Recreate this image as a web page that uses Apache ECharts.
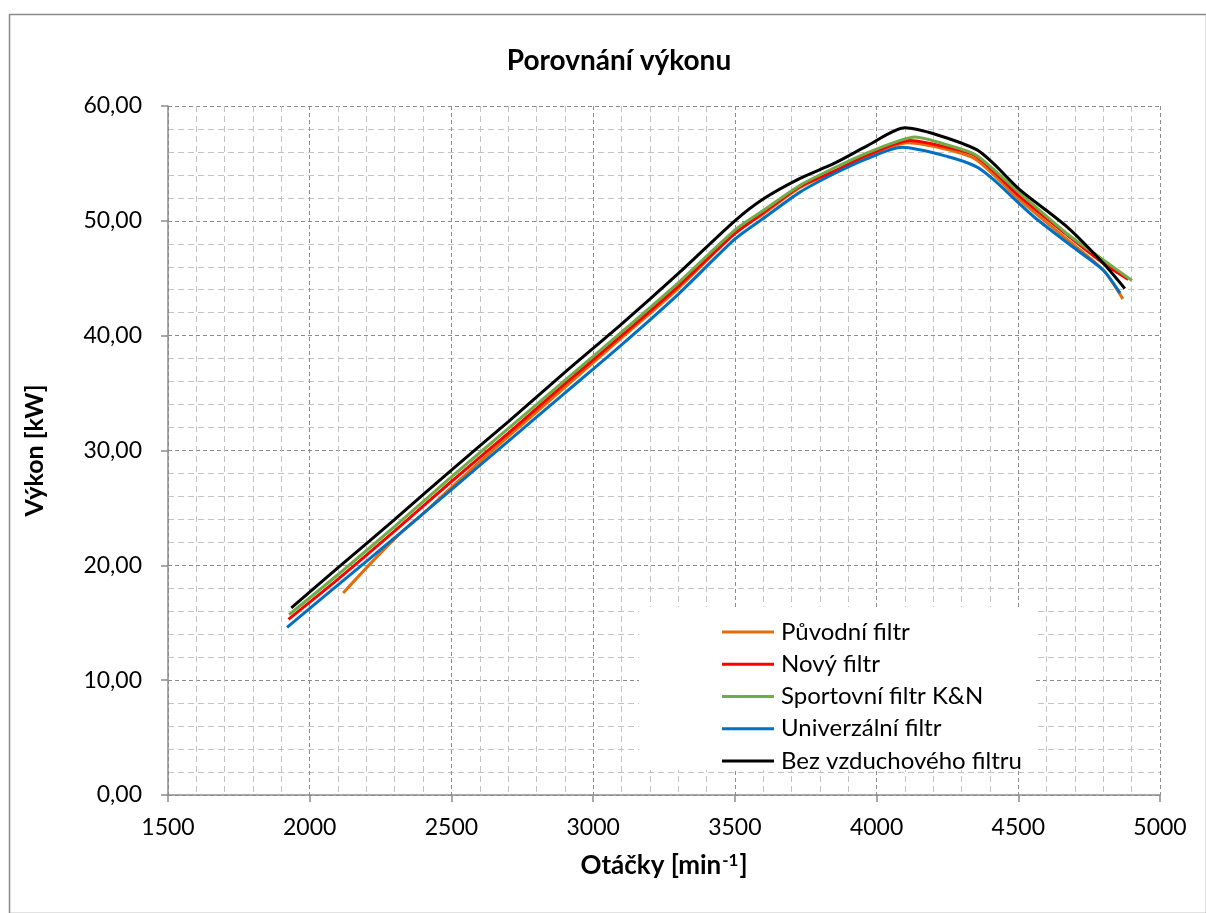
<!DOCTYPE html>
<html>
<head>
<meta charset="utf-8">
<script src="https://cdn.jsdelivr.net/npm/echarts@6/dist/echarts.min.js"></script>
<style>
  html, body { margin: 0; padding: 0; background: #fff; }
  #chart { width: 1206px; height: 913px; }
</style>
</head>
<body>
<div id="chart"></div>
<script>
// Engine power curves for different air filters: rpm [min^-1] vs power [kW]
const seriesNames = ['Původní filtr', 'Nový filtr', 'Sportovní filtr K&N', 'Univerzální filtr', 'Bez vzduchového filtru'];
const seriesColors = ['#E46C0A', '#FF0000', '#70AD47', '#0070C0', '#000000'];

const rpmPuvodni = [2118, 2220, 2320, 2400, 2500, 2700, 2900, 3100, 3300, 3500, 3600, 3730, 3850, 3965, 4110, 4250, 4353, 4506, 4671, 4800, 4869];
const kwPuvodni  = [17.6, 20.3, 22.8, 24.5, 26.8, 31.2, 35.5, 39.8, 44.1, 48.9, 50.6, 52.9, 54.3, 55.6, 56.8, 56.2, 55.3, 51.8, 48.4, 45.7, 43.2];

const rpmNovy = [1925, 2100, 2300, 2500, 2700, 2900, 3100, 3300, 3500, 3600, 3730, 3850, 3965, 4118, 4250, 4353, 4506, 4671, 4800, 4888];
const kwNovy  = [15.3, 18.8, 23.0, 27.3, 31.5, 35.8, 40.0, 44.3, 48.9, 50.7, 53.0, 54.3, 55.7, 57.0, 56.4, 55.6, 52.1, 48.8, 46.3, 44.9];

const rpmSport = [1927, 2100, 2300, 2500, 2700, 2900, 3100, 3300, 3500, 3600, 3730, 3850, 3965, 4083, 4135, 4250, 4353, 4506, 4671, 4800, 4901];
const kwSport  = [15.7, 19.2, 23.4, 27.7, 31.9, 36.1, 40.3, 44.6, 49.2, 50.9, 53.1, 54.6, 55.9, 57.0, 57.3, 56.6, 55.7, 52.4, 48.9, 46.6, 44.8];

const rpmUniverzal = [1920, 2100, 2300, 2500, 2700, 2900, 3100, 3300, 3500, 3600, 3730, 3850, 3965, 4090, 4250, 4353, 4412, 4553, 4694, 4800, 4859];
const kwUniverzal  = [14.6, 18.3, 22.4, 26.6, 30.8, 35.0, 39.2, 43.6, 48.4, 50.2, 52.5, 54.1, 55.4, 56.4, 55.6, 54.7, 53.6, 50.4, 47.7, 45.7, 43.7];

const rpmBez = [1935, 2100, 2300, 2500, 2700, 2900, 3100, 3300, 3500, 3600, 3730, 3850, 3965, 4100, 4212, 4353, 4412, 4506, 4671, 4800, 4876];
const kwBez  = [16.3, 19.8, 24.0, 28.3, 32.5, 36.8, 41.0, 45.4, 50.0, 51.9, 53.7, 55.0, 56.5, 58.1, 57.5, 56.2, 55.0, 52.7, 49.5, 46.3, 44.1];

const rpmSets = [rpmPuvodni, rpmNovy, rpmSport, rpmUniverzal, rpmBez];
const kwSets = [kwPuvodni, kwNovy, kwSport, kwUniverzal, kwBez];

const FONT = 'Lato, "Open Sans", sans-serif';

const chart = echarts.init(document.getElementById('chart'), null, { renderer: 'canvas' });

const pairs = (xs, ys) => xs.map((x, i) => [x, ys[i]]);

const majorLine = { show: true, lineStyle: { color: '#8c8c8c', width: 1, type: [4, 3] } };
const minorLine = { show: true, lineStyle: { color: '#c4c4c4', width: 1, type: [6, 4] } };

chart.setOption({
  backgroundColor: '#fff',
  animation: false,
  title: {
    text: 'Porovnání výkonu',
    left: 614,
    textAlign: 'center',
    top: 42,
    textStyle: { fontFamily: FONT, fontSize: 28, fontWeight: 'bold', color: '#000' }
  },
  graphic: [
    {
      type: 'rect',
      left: 7, top: 12,
      shape: { x: 0, y: 0, width: 1197, height: 899 },
      style: { fill: 'none', stroke: '#8a8a8a', lineWidth: 1.5 },
      z: 0
    },
    {
      // white panel behind the legend
      type: 'rect',
      left: 639, top: 607,
      shape: { x: 0, y: 0, width: 396, height: 163 },
      style: { fill: '#fff' },
      z: 1
    }
  ],
  legend: {
    orient: 'vertical',
    left: 717,
    top: 615,
    itemWidth: 52,
    itemHeight: 14,
    itemGap: 8.25,
    icon: 'path://M0,6 L52,6 L52,9 L0,9 Z',
    textStyle: { fontFamily: FONT, fontSize: 24, lineHeight: 24, color: '#000', padding: [0, 0, 0, 2] },
    data: seriesNames
  },
  grid: { left: 168, right: 46, top: 106, bottom: 118, containLabel: false },
  xAxis: {
    type: 'value',
    min: 1500, max: 5000, interval: 500,
    name: '{b|Otáčky [min}{s|-1}{b|]}',
    nameLocation: 'middle',
    nameGap: 57,
    nameTextStyle: {
      rich: {
        b: { fontFamily: FONT, fontSize: 26, fontWeight: 'bold', color: '#000' },
        s: { fontFamily: FONT, fontSize: 17, fontWeight: 'bold', color: '#000', padding: [0, 1, 11, 1] }
      }
    },
    axisLine: { show: true, onZero: false, lineStyle: { color: '#8c8c8c', width: 1.5 } },
    axisTick: { show: true, length: 7, lineStyle: { color: '#8c8c8c', width: 1.5 } },
    axisLabel: { fontFamily: FONT, fontSize: 23, color: '#000', margin: 21, formatter: v => String(v) },
    splitLine: majorLine,
    minorTick: { show: false, splitNumber: 5 },
    minorSplitLine: minorLine
  },
  yAxis: {
    type: 'value',
    min: 0, max: 60, interval: 10,
    name: 'Výkon [kW]',
    nameLocation: 'middle',
    nameGap: 121,
    nameRotate: 90,
    nameTextStyle: { fontFamily: FONT, fontSize: 25, fontWeight: 'bold', color: '#000' },
    axisLine: { show: true, lineStyle: { color: '#8c8c8c', width: 1.5 } },
    axisTick: { show: true, length: 7, lineStyle: { color: '#8c8c8c', width: 1.5 } },
    axisLabel: {
      fontFamily: FONT, fontSize: 23, color: '#000', margin: 26,
      formatter: v => v.toFixed(2).replace('.', ',')
    },
    splitLine: majorLine,
    minorTick: { show: false, splitNumber: 5 },
    minorSplitLine: minorLine
  },
  series: seriesNames.map((name, i) => ({
    name,
    type: 'line',
    data: pairs(rpmSets[i], kwSets[i]),
    smooth: 0.25,
    symbol: 'none',
    showSymbol: false,
    color: seriesColors[i],
    lineStyle: { color: seriesColors[i], width: 3 },
    itemStyle: { color: seriesColors[i] },
    z: 2 + i
  }))
});
</script>
</body>
</html>
